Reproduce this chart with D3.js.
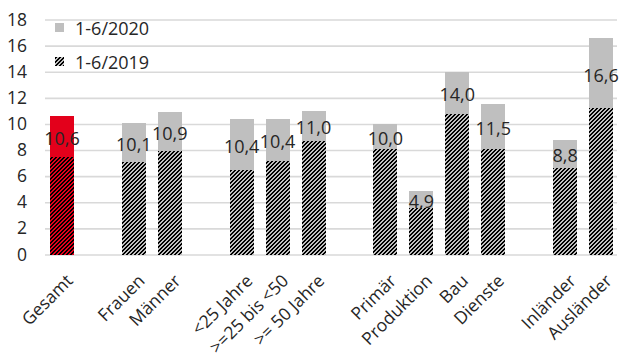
<!DOCTYPE html>
<html>
<head>
<meta charset="utf-8">
<script src="https://cdn.jsdelivr.net/npm/d3@7/dist/d3.min.js"></script>
<style>
  html, body { margin: 0; padding: 0; background: #fff; }
  svg { display: block; }
  text { font-family: "Open Sans", "DejaVu Sans", sans-serif; fill: #262626; }
</style>
</head>
<body>
<svg id="chart" width="620" height="358"></svg>
<script>
// Category slots; null marks an empty spacer slot between groups
const categories = ["Gesamt", null, "Frauen", "Männer", null, "<25 Jahre", ">=25 bis <50", ">= 50 Jahre", null, "Primär", "Produktion", "Bau", "Dienste", null, "Inländer", "Ausländer"];
const values2020 = [10.6, null, 10.1, 10.9, null, 10.4, 10.4, 11.0, null, 10.0, 4.9, 14.0, 11.5, null, 8.8, 16.6];
const values2019 = [7.5, null, 7.1, 7.9, null, 6.5, 7.2, 8.7, null, 8.1, 3.6, 10.8, 8.1, null, 6.6, 11.2];
const seriesNames = ["1-6/2020", "1-6/2019"];
const highlighted = "Gesamt";
const yTicks = [0, 2, 4, 6, 8, 10, 12, 14, 16, 18];

const grey = "#bfbfbf";
const red = "#e3001b";

const svg = d3.select("#chart");
const plot = { left: 44, right: 619, top: 19.5, bottom: 254.5 };

const x = d3.scaleBand()
  .domain(d3.range(categories.length))
  .range([plot.left, plot.right])
  .paddingInner(0.332)
  .paddingOuter(0.166);

const y = d3.scaleLinear().domain([0, 18]).range([plot.bottom, plot.top]);

const fmt = d3.formatLocale({ decimal: ",", thousands: ".", grouping: [3], currency: ["", " €"] }).format(".1f");

// Diagonal hatch patterns (black stripes over a base fill)
const defs = svg.append("defs");
const P = 4;
function hatch(id, base) {
  const p = defs.append("pattern")
    .attr("id", id)
    .attr("patternUnits", "userSpaceOnUse")
    .attr("width", P).attr("height", P);
  p.append("rect").attr("width", P).attr("height", P).attr("fill", base);
  for (let yy = 0; yy < P; yy++) {
    for (let xx = 0; xx < P; xx++) {
      if ((xx + yy) % P < 2) {
        p.append("rect").attr("x", xx).attr("y", yy).attr("width", 1).attr("height", 1).attr("fill", "#000");
      }
    }
  }
}
hatch("hatchGrey", grey);
hatch("hatchRed", red);

// Horizontal gridlines
svg.append("g")
  .attr("transform", `translate(${plot.left + 1},0)`)
  .call(d3.axisLeft(y).tickValues(yTicks).tickSize(-(plot.right - plot.left - 3)).tickFormat(""))
  .call(g => g.select(".domain").remove())
  .call(g => g.selectAll("line").attr("stroke", "#d9d9d9").attr("stroke-width", 1.6));

// Y tick labels
svg.append("g")
  .attr("transform", "translate(27,0)")
  .call(d3.axisLeft(y).tickValues(yTicks).tickSize(0).tickPadding(0))
  .call(g => g.select(".domain").remove())
  .call(g => g.selectAll("text")
    .attr("font-size", 17.5)
    .style("font-family", "'Open Sans', sans-serif")
    .attr("fill", "#262626"));

const idx = d3.range(categories.length).filter(i => categories[i] !== null);

// 2020 bars (full height)
svg.append("g").selectAll("rect")
  .data(idx)
  .join("rect")
  .attr("x", i => x(i))
  .attr("width", x.bandwidth())
  .attr("y", i => y(values2020[i]))
  .attr("height", i => y(0) - y(values2020[i]))
  .attr("fill", i => categories[i] === highlighted ? red : grey)
  .attr("shape-rendering", "crispEdges");

// 2019 bars (hatched, in front)
svg.append("g").selectAll("rect")
  .data(idx)
  .join("rect")
  .attr("x", i => x(i))
  .attr("width", x.bandwidth())
  .attr("y", i => y(values2019[i]))
  .attr("height", i => y(0) - y(values2019[i]))
  .attr("fill", i => categories[i] === highlighted ? "url(#hatchRed)" : "url(#hatchGrey)")
  .attr("shape-rendering", "crispEdges");

// Value labels for 2020, centred in the upper segment
svg.append("g").selectAll("text")
  .data(idx)
  .join("text")
  .attr("x", i => x(i) + x.bandwidth() / 2)
  .attr("y", i => y((values2019[i] + values2020[i]) / 2) + 1.5)
  .attr("text-anchor", "middle")
  .attr("dominant-baseline", "central")
  .attr("font-size", 18)
  .text(i => fmt(values2020[i]));

// Rotated category labels
svg.append("g").selectAll("text")
  .data(idx)
  .join("text")
  .attr("transform", i => `translate(${x(i) + x.bandwidth() / 2 + 7},${277}) rotate(-45)`)
  .attr("text-anchor", "end")
  .attr("dominant-baseline", "central")
  .attr("font-size", 17.5)
  .text(i => categories[i]);

// Legend
const legend = svg.append("g");
const legendItems = [
  { name: seriesNames[0], fill: grey, cy: 27.5 },
  { name: seriesNames[1], fill: "url(#hatchGrey)", cy: 61 }
];
legend.selectAll("rect")
  .data(legendItems)
  .join("rect")
  .attr("x", 55).attr("y", d => d.cy - 4.5)
  .attr("width", 9).attr("height", 9)
  .attr("fill", d => d.fill)
  .attr("shape-rendering", "crispEdges");
legend.selectAll("text")
  .data(legendItems)
  .join("text")
  .attr("x", 75).attr("y", d => d.cy + 0.5)
  .attr("dominant-baseline", "central")
  .attr("font-size", 18)
  .text(d => d.name);
</script>
</body>
</html>
